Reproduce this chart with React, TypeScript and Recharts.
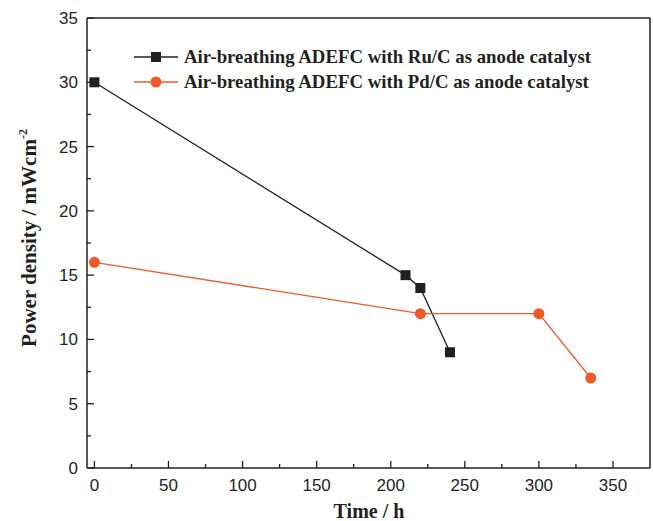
import React from 'react';
import { LineChart, Line, XAxis, YAxis, Legend } from 'recharts';

// Ru/C series
const ruTime = [0, 210, 220, 240];
const ruPower = [30, 15, 14, 9];
// Pd/C series
const pdTime = [0, 220, 300, 335];
const pdPower = [16, 12, 12, 7];

const seriesNames = [
  'Air-breathing ADEFC with Ru/C as anode catalyst',
  'Air-breathing ADEFC with Pd/C as anode catalyst',
];

const xTicks = [0, 25, 50, 75, 100, 125, 150, 175, 200, 225, 250, 275, 300, 325, 350];
const xLabels = [0, 50, 100, 150, 200, 250, 300, 350];
const yTicks = [0, 2.5, 5, 7.5, 10, 12.5, 15, 17.5, 20, 22.5, 25, 27.5, 30, 32.5, 35];
const yLabels = [0, 5, 10, 15, 20, 25, 30, 35];

const INK = '#231f20';
const ORANGE = '#f05a28';
const SANS = '"Liberation Sans", Arial, sans-serif';
const SERIF = '"Liberation Serif", "Times New Roman", serif';

const ruData = ruTime.map((t, i) => ({ t, p: ruPower[i] }));
const pdData = pdTime.map((t, i) => ({ t, p: pdPower[i] }));

const XTick = (props: any) => {
  const { x, y, payload } = props;
  const major = xLabels.includes(payload.value);
  return (
    <g>
      <line x1={x} y1={y} x2={x} y2={y - (major ? 7 : 4)} stroke={INK} strokeWidth={1.3} />
      {major && (
        <text x={x} y={y + 23} textAnchor="middle" fontFamily={SANS} fontSize={17} fill={INK}>
          {payload.value}
        </text>
      )}
    </g>
  );
};

const YTick = (props: any) => {
  const { x, y, payload } = props;
  const major = yLabels.includes(payload.value);
  return (
    <g>
      <line x1={x} y1={y} x2={x + (major ? 7 : 4)} y2={y} stroke={INK} strokeWidth={1.3} />
      {major && (
        <text x={x - 9} y={y + 6} textAnchor="end" fontFamily={SANS} fontSize={17} fill={INK}>
          {payload.value}
        </text>
      )}
    </g>
  );
};

const SquareDot = (props: any) => {
  const { cx, cy, index } = props;
  return <rect key={index} x={cx - 5} y={cy - 5} width={10} height={10} fill={INK} />;
};

const LegendBox = () => {
  const rows = [
    { name: seriesNames[0], color: INK, square: true, y: 57 },
    { name: seriesNames[1], color: ORANGE, square: false, y: 82 },
  ];
  return (
    <svg width={653} height={100} style={{ display: 'block' }}>
      {rows.map((r) => (
        <g key={r.name}>
          <line x1={134} y1={r.y} x2={178} y2={r.y} stroke={r.color} strokeWidth={1.3} />
          {r.square ? (
            <rect x={151} y={r.y - 5} width={10} height={10} fill={r.color} />
          ) : (
            <circle cx={156} cy={r.y} r={5.5} fill={r.color} />
          )}
          <text x={184} y={r.y + 6} fontFamily={SERIF} fontWeight="bold" fontSize={18.8} fill={INK}>
            {r.name}
          </text>
        </g>
      ))}
    </svg>
  );
};

const YTitle = () => (
  <text
    transform="translate(36,238) rotate(-90)"
    textAnchor="middle"
    fontFamily={SERIF}
    fontWeight="bold"
    fontSize={21}
    fill={INK}
  >
    Power density / mWcm
    <tspan dy={-9} fontSize={12}>-2</tspan>
  </text>
);

export default function App() {
  return (
    <div style={{ position: 'absolute', left: 0, top: 0, width: 653, height: 521, background: '#fff' }}>
      <LineChart width={653} height={521} margin={{ top: 0, right: 0, bottom: 0, left: 0 }}>
        <XAxis
          dataKey="t"
          type="number"
          domain={[-5, 375]}
          ticks={xTicks}
          height={53}
          tickSize={0}
          tickMargin={0}
          tickLine={false}
          tick={<XTick />}
          axisLine={{ stroke: INK, strokeWidth: 1.5 }}
          allowDataOverflow
          interval={0}
        />
        <XAxis
          xAxisId="top"
          orientation="top"
          type="number"
          domain={[-5, 375]}
          height={18}
          tick={false}
          tickLine={false}
          axisLine={{ stroke: INK, strokeWidth: 1.5 }}
        />
        <YAxis
          type="number"
          domain={[0, 35]}
          ticks={yTicks}
          width={87}
          tickSize={0}
          tickMargin={0}
          tickLine={false}
          tick={<YTick />}
          axisLine={{ stroke: INK, strokeWidth: 1.5 }}
          interval={0}
          label={{ content: () => <YTitle /> }}
        />
        <YAxis
          yAxisId="right"
          orientation="right"
          type="number"
          domain={[0, 35]}
          width={3}
          tick={false}
          tickLine={false}
          axisLine={{ stroke: INK, strokeWidth: 1.5 }}
        />
        <Legend
          layout="vertical"
          verticalAlign="middle"
          align="center"
          content={<LegendBox />}
          wrapperStyle={{ left: 0, top: 0, width: 653, height: 100, pointerEvents: 'none' }}
        />
        <Line
          data={ruData}
          dataKey="p"
          name={seriesNames[0]}
          type="linear"
          stroke={INK}
          strokeWidth={1.3}
          dot={<SquareDot />}
          activeDot={false}
          isAnimationActive={false}
        />
        <Line
          data={pdData}
          dataKey="p"
          name={seriesNames[1]}
          type="linear"
          stroke={ORANGE}
          strokeWidth={1.3}
          dot={{ r: 5.5, fill: ORANGE, stroke: 'none', strokeWidth: 0 }}
          activeDot={false}
          isAnimationActive={false}
        />
      </LineChart>
      <svg width={653} height={521} style={{ position: 'absolute', left: 0, top: 0, pointerEvents: 'none' }}>
        <text x={369} y={518} textAnchor="middle" fontFamily={SERIF} fontWeight="bold" fontSize={20} fill={INK}>
          Time / h
        </text>
      </svg>
    </div>
  );
}
